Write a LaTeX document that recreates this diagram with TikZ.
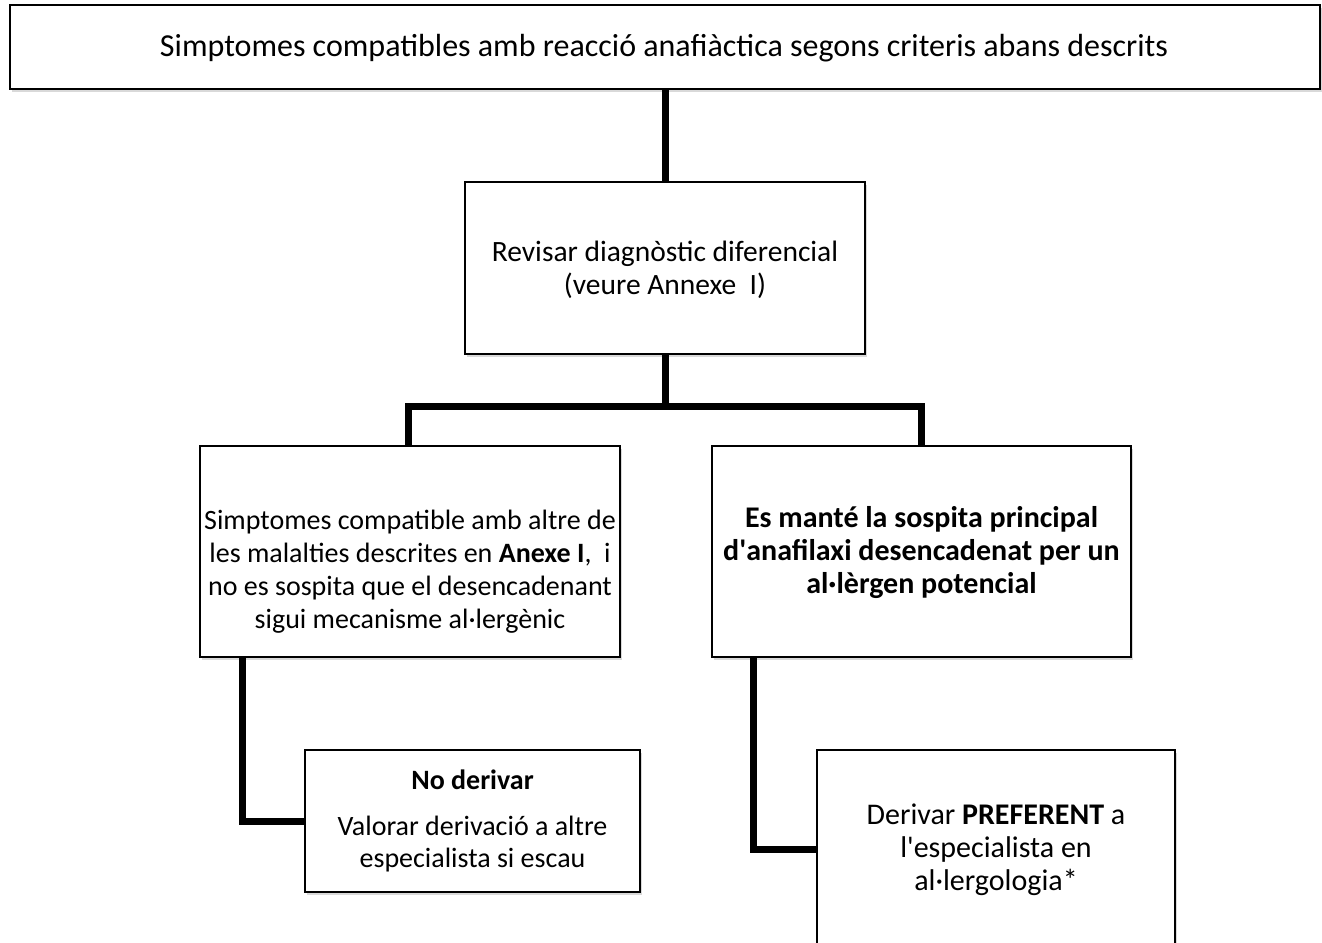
\documentclass[tikz,border=0pt]{standalone}
\usepackage{fontspec}
\setmainfont{Carlito}
\usetikzlibrary{shadows}
\newcommand{\fs}[1]{\fontsize{#1}{33}\selectfont}
\begin{document}
\begin{tikzpicture}[x=1pt,y=-1pt,
  box/.style={draw=black,line width=1.6pt,fill=white,rectangle,inner sep=0pt,
    drop shadow={shadow xshift=2pt,shadow yshift=-3pt,opacity=0.25,fill=black!60}},
  txt/.style={align=center,inner sep=0pt},
  conn/.style={line width=7pt,line cap=butt,line join=miter}]
\useasboundingbox (0,0) rectangle (1322,942);
\begin{scope}
\clip (0,0) rectangle (1322,942);
\node[box,minimum width=1310,minimum height=84] (top) at (665,47) {};
\node[txt,font=\fs{32}] (ttop) at (664,48) {Simptomes compatibles amb reacció anafiàctica segons criteris abans descrits};
\node[box,minimum width=400,minimum height=172] (b2) at (665,268) {};
\node[txt,font=\fs{29.5}] (t2) at (665,270) {Revisar diagnòstic diferencial\\(veure Annexe\ \ I)};
\node[box,minimum width=420,minimum height=211] (b3) at (410,551.5) {};
\node[txt,font=\fontsize{28}{33}\selectfont] (t3) at (410,572) {Simptomes compatible amb altre de\\les malalties descrites en \textbf{Anexe I},\ \ i\\no es sospita que el desencadenant\\sigui mecanisme al·lergènic};
\node[box,minimum width=419,minimum height=211] (b4) at (921.5,551.5) {};
\node[txt,font=\fontsize{30}{33}\selectfont\bfseries] (t4) at (921.5,553) {Es manté la sospita principal\\d\textquotesingle anafilaxi desencadenat per un\\al·lèrgen potencial};
\node[box,minimum width=335,minimum height=142] (b5) at (472.5,821) {};
\node[txt,font=\fs{28}] (t5a) at (472.5,780) {\textbf{No derivar}};
\node[txt,font=\fontsize{28}{32}\selectfont] (t5b) at (472.5,844) {Valorar derivació a altre\\especialista si escau};
\node[box,minimum width=358,minimum height=198] (b6) at (996,849) {};
\node[txt,font=\fs{30}] (t6) at (996,850) {Derivar \textbf{PREFERENT} a\\l\textquotesingle especialista en\\al·lergologia*};
\end{scope}
\coordinate (j) at (665,406);
\draw[conn] (top.south) -- (b2.north);
\draw[conn] (b2.south) -- (j);
\draw[conn] ([xshift=-2]b3.north) |- (j) -| (b4.north);
\draw[conn] ([xshift=43]b3.south west) |- (b5.west);
\draw[conn] ([xshift=42]b4.south west) |- (b6.west);
\end{tikzpicture}
\end{document}
